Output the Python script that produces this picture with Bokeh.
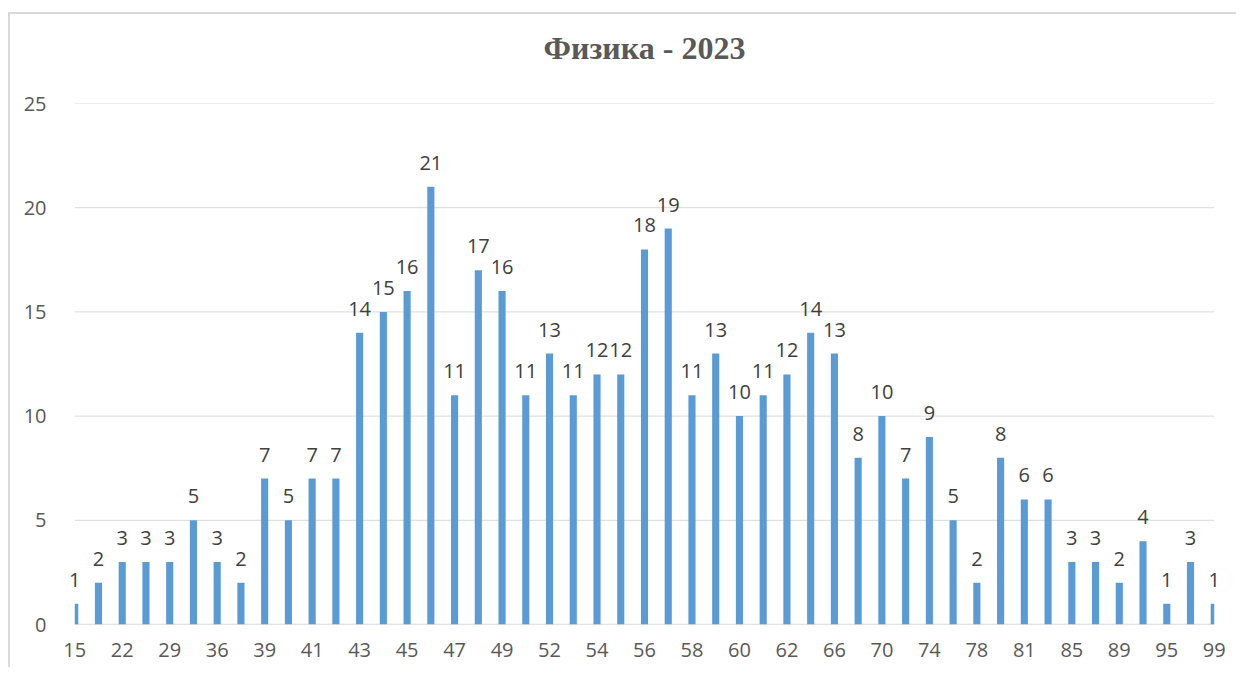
from bokeh.plotting import figure
from bokeh.models import ColumnDataSource, LabelSet, Title, FixedTicker, Range1d
from bokeh.core.properties import value
from bokeh.embed import file_html
from bokeh.resources import INLINE

# Test scores (categories) and number of participants
scores = ["15", "19", "22", "26", "29", "32", "36", "38", "39", "40",
          "41", "42", "43", "44", "45", "46", "47", "48", "49", "50",
          "52", "53", "54", "55", "56", "57", "58", "59", "60", "61",
          "62", "64", "66", "68", "70", "72", "74", "76", "78", "80",
          "81", "83", "85", "87", "89", "92", "95", "97", "99"]
counts = [1, 2, 3, 3, 3, 5, 3, 2, 7, 5,
          7, 7, 14, 15, 16, 21, 11, 17, 16, 11,
          13, 11, 12, 12, 18, 19, 11, 13, 10, 11,
          12, 14, 13, 8, 10, 7, 9, 5, 2, 8,
          6, 6, 3, 3, 2, 4, 1, 3, 1]
y_ticks = [0, 5, 10, 15, 20, 25]
title_text = "Физика - 2023"

n = len(scores)
idx = list(range(n))
half = 0.15
# bars are cut at the first and last category (category axis "on tick marks")
lefts = [max(i - half, 0) for i in idx]
rights = [min(i + half, n - 1) for i in idx]
src = ColumnDataSource(dict(x=idx, left=lefts, right=rights, score=scores,
                            count=counts, label=[str(c) for c in counts]))

W, H = 1228, 655
p = figure(width=W, height=H, output_backend="svg", toolbar_location=None,
           x_range=Range1d(-0.6, n - 1 + 0.6), y_range=Range1d(0, 25),
           min_border_left=50, min_border_right=10, min_border_top=89,
           min_border_bottom=45, title=title_text)
p.styles = {"border-top": "2px solid #d9d9d9", "border-left": "2px solid #d9d9d9",
            "margin-top": "12px", "margin-left": "8px"}

p.title.align = "center"
p.title.text_font = "Liberation Serif"
p.title.text_font_style = "bold"
p.title.text_font_size = "32px"
p.title.text_color = "#595959"
p.title.standoff = 10
# blank spacer between the title and the plot area
p.add_layout(Title(text=" ", text_font_size="1px", standoff=30), "above")

# horizontal gridlines spanning first to last category
p.segment(x0=[0] * len(y_ticks), x1=[n - 1] * len(y_ticks), y0=y_ticks, y1=y_ticks,
          line_color="#d9d9d9", line_width=1)
p.segment(x0=[0], x1=[n - 1], y0=[0], y1=[0], line_color="#d9d9d9", line_width=1.5)

p.quad(left="left", right="right", top="count", bottom=0, source=src,
       fill_color="#5b9bd5", line_color=None)

labels = LabelSet(x="x", y="count", text="label", source=src, text_align="center",
                  text_baseline="alphabetic", y_offset=17,
                  text_font=value("Open Sans"), text_font_size=value("20px"),
                  text_color="#404040")
p.add_layout(labels)

p.outline_line_color = None
p.background_fill_color = "white"
p.border_fill_color = "white"
p.xgrid.grid_line_color = None
p.ygrid.grid_line_color = None

p.xaxis.ticker = FixedTicker(ticks=idx[::2])
p.xaxis.major_label_overrides = {i: scores[i] for i in idx[::2]}
p.xaxis.axis_line_color = None
p.xaxis.major_tick_line_color = None
p.xaxis.minor_tick_line_color = None
p.xaxis.major_label_standoff = 12
p.xaxis.major_label_text_font = "Open Sans"
p.xaxis.major_label_text_font_size = "20px"
p.xaxis.major_label_text_color = "#595959"

p.yaxis.ticker = FixedTicker(ticks=y_ticks)
p.yaxis.axis_line_color = None
p.yaxis.major_tick_line_color = None
p.yaxis.minor_tick_line_color = None
p.yaxis.major_label_standoff = 8
p.yaxis.major_label_text_font = "Open Sans"
p.yaxis.major_label_text_font_size = "20px"
p.yaxis.major_label_text_color = "#595959"

open("out.html", "w").write(file_html(p, INLINE))
